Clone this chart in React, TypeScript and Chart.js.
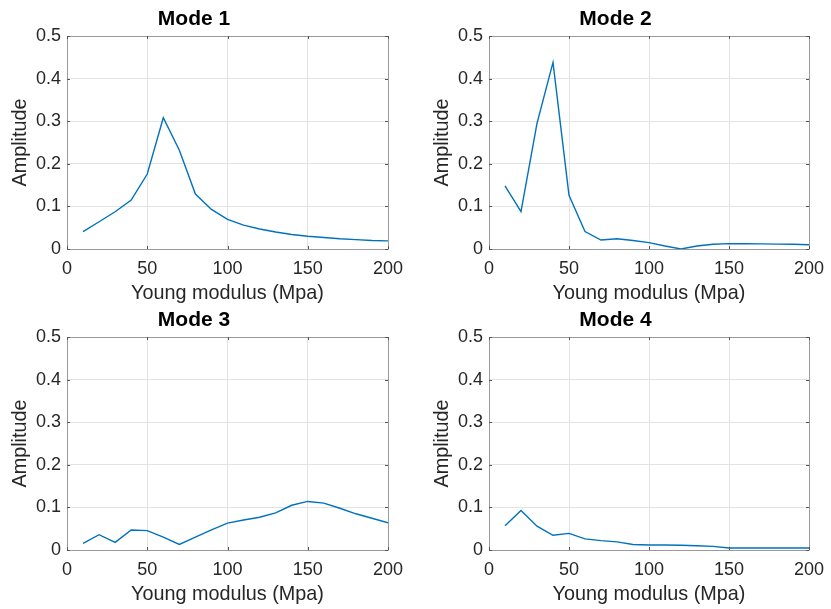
import React, { useEffect, useRef } from "react";
import { Chart, registerables } from "chart.js";

Chart.register(...registerables);

const youngModulus = [10, 20, 30, 40, 50, 60, 70, 80, 90, 100, 110, 120, 130, 140, 150, 160, 170, 180, 190, 200];
const mode1 = [0.041, 0.064, 0.0875, 0.115, 0.176, 0.308, 0.232, 0.129, 0.093, 0.0695, 0.056, 0.047, 0.04, 0.034, 0.03, 0.027, 0.024, 0.022, 0.02, 0.019];
const mode2 = [0.148, 0.088, 0.295, 0.438, 0.126, 0.041, 0.021, 0.024, 0.02, 0.015, 0.007, 0.0, 0.007, 0.011, 0.0125, 0.0125, 0.012, 0.0115, 0.011, 0.01];
const mode3 = [0.0157, 0.036, 0.018, 0.047, 0.0455, 0.03, 0.013, 0.03, 0.047, 0.063, 0.0705, 0.077, 0.087, 0.105, 0.114, 0.11, 0.098, 0.085, 0.0745, 0.064];
const mode4 = [0.057, 0.093, 0.056, 0.0345, 0.039, 0.026, 0.022, 0.019, 0.013, 0.0118, 0.0118, 0.011, 0.01, 0.0086, 0.0047, 0.0047, 0.0047, 0.0047, 0.0047, 0.0047];
const titles = ["Mode 1", "Mode 2", "Mode 3", "Mode 4"];
const xLabel = "Young modulus (Mpa)";
const yLabel = "Amplitude";

const FONT = "'Liberation Sans', Arial, Helvetica, sans-serif";
const TEXT = "#262626";

const boxPlugin = {
  id: "matlabBox",
  afterDraw(chart: any) {
    const { ctx, chartArea } = chart;
    const { left, right, top, bottom } = chartArea;
    ctx.save();
    ctx.strokeStyle = "#9a9a9a";
    ctx.lineWidth = 1;
    ctx.beginPath();
    ctx.rect(Math.round(left) + 0.5, Math.round(top) + 0.5, Math.round(right - left), Math.round(bottom - top));
    ctx.stroke();
    const tl = 3;
    ctx.strokeStyle = "#555555";
    ctx.beginPath();
    const xs = chart.scales.x;
    xs.ticks.forEach((t: any) => {
      const px = Math.round(xs.getPixelForValue(t.value)) + 0.5;
      ctx.moveTo(px, bottom);
      ctx.lineTo(px, bottom - tl);
      ctx.moveTo(px, top);
      ctx.lineTo(px, top + tl);
    });
    const ys = chart.scales.y;
    ys.ticks.forEach((t: any) => {
      const py = Math.round(ys.getPixelForValue(t.value)) + 0.5;
      ctx.moveTo(left, py);
      ctx.lineTo(left + tl, py);
      ctx.moveTo(right, py);
      ctx.lineTo(right - tl, py);
    });
    ctx.stroke();
    ctx.restore();
  },
};

function Subplot({ title, values, left, top, width, height, padRight }: { title: string; values: number[]; left: number; top: number; width: number; height: number; padRight: number }) {
  const ref = useRef<HTMLCanvasElement>(null);
  useEffect(() => {
    const chart = new Chart(ref.current as HTMLCanvasElement, {
      type: "line",
      data: {
        datasets: [
          {
            data: youngModulus.map((x, i) => ({ x, y: values[i] })),
            borderColor: "#0072BD",
            borderWidth: 1.4,
            pointRadius: 0,
            tension: 0,
            fill: false,
          },
        ],
      },
      options: {
        animation: false,
        responsive: false,
        devicePixelRatio: 1,
        layout: { padding: { left: 0, right: padRight, top: 0, bottom: 0 } },
        plugins: {
          legend: { display: false },
          tooltip: { enabled: false },
          title: {
            display: true,
            text: title,
            color: "#000",
            font: { family: FONT, size: 21, weight: "bold" },
            padding: { top: 6.5, bottom: 4.3 },
          },
        },
        scales: {
          x: {
            type: "linear",
            min: 0,
            max: 200,
            ticks: { stepSize: 50, color: TEXT, font: { family: FONT, size: 18 }, padding: 9, maxRotation: 0 },
            grid: { color: "#e3e3e3", drawTicks: false, lineWidth: 1 },
            border: { display: false },
            title: { display: true, text: xLabel, color: TEXT, font: { family: FONT, size: 19.8 }, padding: { top: 0, bottom: 0 } },
            afterFit: (s: any) => { s.height = 56; },
          },
          y: {
            type: "linear",
            min: 0,
            max: 0.5,
            ticks: { stepSize: 0.1, color: TEXT, font: { family: FONT, size: 18 }, padding: 6 },
            grid: { color: "#e3e3e3", drawTicks: false, lineWidth: 1 },
            border: { display: false },
            title: { display: true, text: yLabel, color: TEXT, font: { family: FONT, size: 19.8 }, padding: { top: 9, bottom: 0 } },
            afterFit: (s: any) => { s.width = 67; },
          },
        },
      },
      plugins: [boxPlugin],
    } as any);
    return () => chart.destroy();
  }, []);
  return (
    <canvas
      ref={ref}
      width={width}
      height={height}
      style={{ position: "absolute", left, top, width, height }}
    />
  );
}

export default function App() {
  return (
    <div style={{ position: "fixed", left: 0, top: 0, width: 831, height: 609, background: "#fff", overflow: "hidden" }}>
      <Subplot title={titles[0]} values={mode1} left={0} top={0} width={415} height={305} padRight={27} />
      <Subplot title={titles[1]} values={mode2} left={422} top={0} width={415} height={305} padRight={28} />
      <Subplot title={titles[2]} values={mode3} left={0} top={301} width={415} height={305} padRight={27} />
      <Subplot title={titles[3]} values={mode4} left={422} top={301} width={415} height={305} padRight={28} />
    </div>
  );
}
